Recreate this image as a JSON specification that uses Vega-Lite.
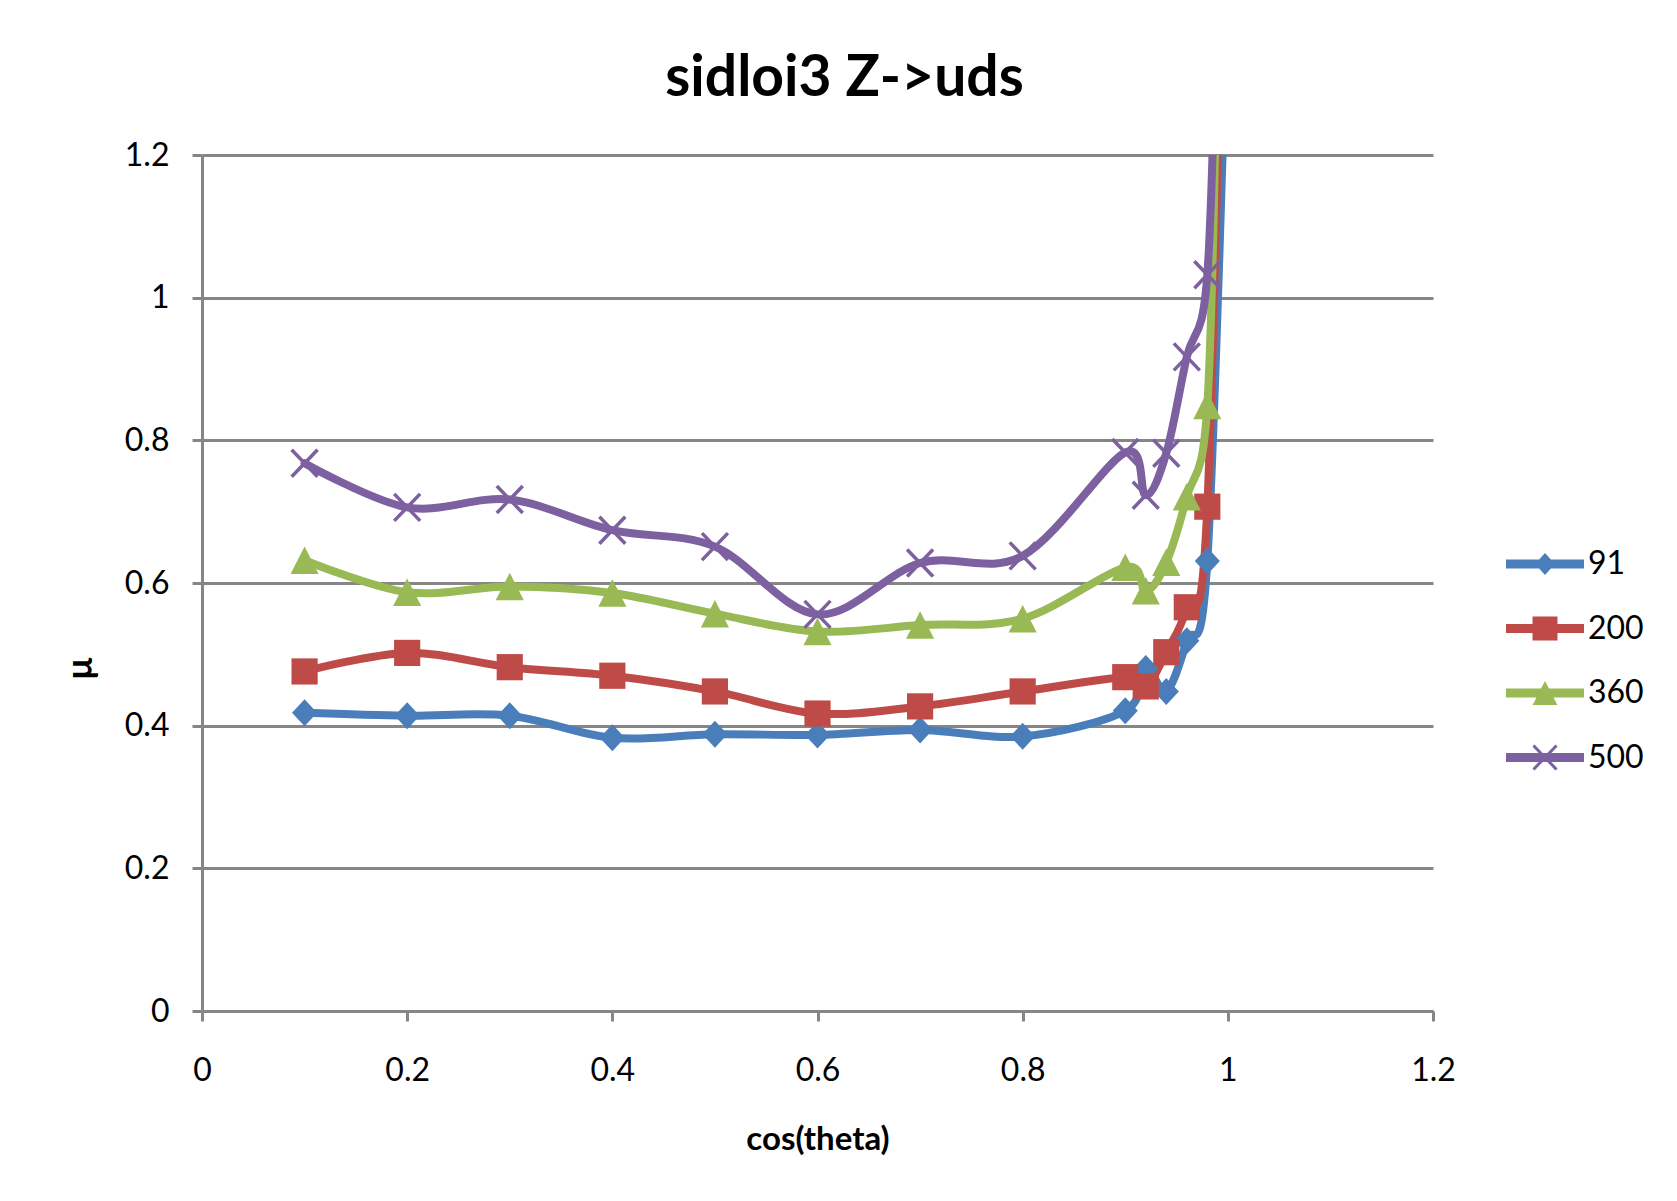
{
  "$schema": "https://vega.github.io/schema/vega-lite/v6.json",
  "width": 1231,
  "height": 856,
  "autosize": {"type": "none"},
  "padding": {"left": 202, "top": 155, "right": 244, "bottom": 190},
  "background": "white",
  "title": {"text": "sidloi3 Z->uds", "font": "Lato", "fontSize": 57, "fontWeight": "bold", "color": "black", "anchor": "middle", "dx": 27, "dy": 75, "offset": 61, "baseline": "alphabetic"},
  "config": {"view": {"stroke": null}, "font": "Lato"},
  "data": {"values": [
    {"x": 0.1, "y": 0.418, "series": "91"}, {"x": 0.2, "y": 0.414, "series": "91"}, {"x": 0.3, "y": 0.414, "series": "91"}, {"x": 0.4, "y": 0.383, "series": "91"}, {"x": 0.5, "y": 0.388, "series": "91"}, {"x": 0.6, "y": 0.387, "series": "91"}, {"x": 0.7, "y": 0.394, "series": "91"}, {"x": 0.8, "y": 0.385, "series": "91"}, {"x": 0.9, "y": 0.421, "series": "91"}, {"x": 0.92, "y": 0.48, "series": "91"}, {"x": 0.94, "y": 0.448, "series": "91"}, {"x": 0.96, "y": 0.519, "series": "91"}, {"x": 0.98, "y": 0.631, "series": "91"}, {"x": 1.0, "y": 1.45, "series": "91"},
    {"x": 0.1, "y": 0.476, "series": "200"}, {"x": 0.2, "y": 0.502, "series": "200"}, {"x": 0.3, "y": 0.482, "series": "200"}, {"x": 0.4, "y": 0.47, "series": "200"}, {"x": 0.5, "y": 0.448, "series": "200"}, {"x": 0.6, "y": 0.417, "series": "200"}, {"x": 0.7, "y": 0.427, "series": "200"}, {"x": 0.8, "y": 0.448, "series": "200"}, {"x": 0.9, "y": 0.468, "series": "200"}, {"x": 0.92, "y": 0.455, "series": "200"}, {"x": 0.94, "y": 0.503, "series": "200"}, {"x": 0.96, "y": 0.566, "series": "200"}, {"x": 0.98, "y": 0.707, "series": "200"}, {"x": 1.0, "y": 1.84, "series": "200"},
    {"x": 0.1, "y": 0.632, "series": "360"}, {"x": 0.2, "y": 0.587, "series": "360"}, {"x": 0.3, "y": 0.595, "series": "360"}, {"x": 0.4, "y": 0.586, "series": "360"}, {"x": 0.5, "y": 0.557, "series": "360"}, {"x": 0.6, "y": 0.532, "series": "360"}, {"x": 0.7, "y": 0.541, "series": "360"}, {"x": 0.8, "y": 0.55, "series": "360"}, {"x": 0.9, "y": 0.622, "series": "360"}, {"x": 0.92, "y": 0.589, "series": "360"}, {"x": 0.94, "y": 0.629, "series": "360"}, {"x": 0.96, "y": 0.721, "series": "360"}, {"x": 0.98, "y": 0.849, "series": "360"}, {"x": 0.99, "y": 1.4, "series": "360"},
    {"x": 0.1, "y": 0.768, "series": "500"}, {"x": 0.2, "y": 0.706, "series": "500"}, {"x": 0.3, "y": 0.717, "series": "500"}, {"x": 0.4, "y": 0.674, "series": "500"}, {"x": 0.5, "y": 0.651, "series": "500"}, {"x": 0.6, "y": 0.556, "series": "500"}, {"x": 0.7, "y": 0.628, "series": "500"}, {"x": 0.8, "y": 0.638, "series": "500"}, {"x": 0.9, "y": 0.783, "series": "500"}, {"x": 0.92, "y": 0.723, "series": "500"}, {"x": 0.94, "y": 0.782, "series": "500"}, {"x": 0.96, "y": 0.917, "series": "500"}, {"x": 0.98, "y": 1.032, "series": "500"}, {"x": 0.99, "y": 1.5, "series": "500"}
  ]},
  "encoding": {
    "x": {"field": "x", "type": "quantitative",
      "scale": {"domain": [0, 1.2], "nice": false, "zero": false},
      "axis": {"values": [0, 0.2, 0.4, 0.6, 0.8, 1, 1.2], "format": "~g", "grid": false,
        "title": "cos(theta)", "titleFont": "Lato", "titleFontSize": 33, "titleFontWeight": "bold", "titleColor": "black", "titleY": 128, "titleBaseline": "middle",
        "labelFont": "Lato", "labelFontSize": 32, "labelColor": "black", "labelPadding": 49, "labelBaseline": "middle", "labelFlush": false, "labelOverlap": false,
        "tickSize": 10, "tickColor": "#868686", "tickWidth": 3, "domainColor": "#868686", "domainWidth": 3}},
    "y": {"field": "y", "type": "quantitative",
      "scale": {"domain": [0, 1.2], "nice": false, "zero": false},
      "axis": {"values": [0, 0.2, 0.4, 0.6, 0.8, 1, 1.2], "format": "~g", "grid": true, "gridColor": "#868686", "gridWidth": 2.8,
        "title": "μ", "titleFont": "Lato", "titleFontSize": 36, "titleFontWeight": "bold", "titleColor": "black", "titleAngle": 270, "titleX": -122, "titleY": 513, "titleBaseline": "middle", "titleAlign": "center",
        "labelFont": "Lato", "labelFontSize": 32, "labelColor": "black", "labelPadding": 23, "labelFlush": false, "labelOverlap": false,
        "tickSize": 10, "tickColor": "#868686", "tickWidth": 3, "domainColor": "#868686", "domainWidth": 3}}
  },
  "layer": [
    {
      "mark": {"type": "line", "interpolate": "cardinal", "strokeWidth": 8, "clip": true, "strokeCap": "round", "strokeJoin": "round"},
      "encoding": {
        "color": {"field": "series", "type": "nominal", "scale": {"domain": ["91", "200", "360", "500"], "range": ["#4A7EBB", "#BE4B48", "#98B954", "#7D60A0"]}, "legend": null}
      }
    },
    {
      "mark": {"type": "point", "filled": true, "opacity": 1, "size": 729, "strokeWidth": 0, "clip": true},
      "encoding": {
        "color": {"field": "series", "type": "nominal", "scale": {"domain": ["91", "200", "360", "500"], "range": ["#4A7EBB", "#BE4B48", "#98B954", "#7D60A0"]}, "legend": null},
        "shape": {"field": "series", "type": "nominal", "scale": {"domain": ["91", "200", "360", "500"], "range": [
          "M0,-1L0.93,0L0,1L-0.93,0Z",
          "M-0.97,-0.97L0.97,-0.97L0.97,0.97L-0.97,0.97Z",
          "M0,-1.02L1.04,1.02L-1.04,1.02Z",
          "M-0.866,-1.09L1.054,0.91L0.866,1.09L-1.054,-0.91ZM1.054,-0.91L-0.866,1.09L-1.054,0.91L0.866,-1.09Z"
        ]}, "legend": null}
      }
    },
    {
      "transform": [{"filter": "datum.x > 5"}],
      "mark": {"type": "point", "filled": true, "opacity": 1, "strokeWidth": 0},
      "encoding": {
        "color": {"field": "series", "type": "nominal", "scale": {"domain": ["91", "200", "360", "500"], "range": ["#4A7EBB", "#BE4B48", "#98B954", "#7D60A0"]},
          "legend": {"title": null, "orient": "none", "legendX": 1327, "legendY": 393, "padding": 0, "labelFont": "Lato", "labelFontSize": 32, "labelColor": "black", "symbolSize": 576, "symbolStrokeWidth": 0, "symbolOpacity": 1, "labelOffset": 27, "rowPadding": 32.5}},
        "shape": {"field": "series", "type": "nominal", "scale": {"domain": ["91", "200", "360", "500"], "range": [
          "M-3.25,-0.375L3.25,-0.375L3.25,0.375L-3.25,0.375ZM0,-0.92L0.83,0L0,0.92L-0.83,0Z",
          "M-3.25,-0.375L3.25,-0.375L3.25,0.375L-3.25,0.375ZM-1.04,-1L1.04,-1L1.04,1L-1.04,1Z",
          "M-3.25,-0.375L3.25,-0.375L3.25,0.375L-3.25,0.375ZM0,-1L1.03,1L-1.03,1Z",
          "M-3.25,-0.375L3.25,-0.375L3.25,0.375L-3.25,0.375ZM-0.87,-1.087L1.05,0.913L0.87,1.087L-1.05,-0.913ZM1.05,-0.913L-0.87,1.087L-1.05,0.913L0.87,-1.087Z"
        ]},
          "legend": {"title": null, "orient": "none", "legendX": 1327, "legendY": 393, "padding": 0, "labelFont": "Lato", "labelFontSize": 32, "labelColor": "black", "symbolSize": 576, "symbolStrokeWidth": 0, "symbolOpacity": 1, "labelOffset": 27, "rowPadding": 32.5}}
      }
    }
  ],
  "resolve": {"scale": {"shape": "independent", "color": "independent"}}
}
